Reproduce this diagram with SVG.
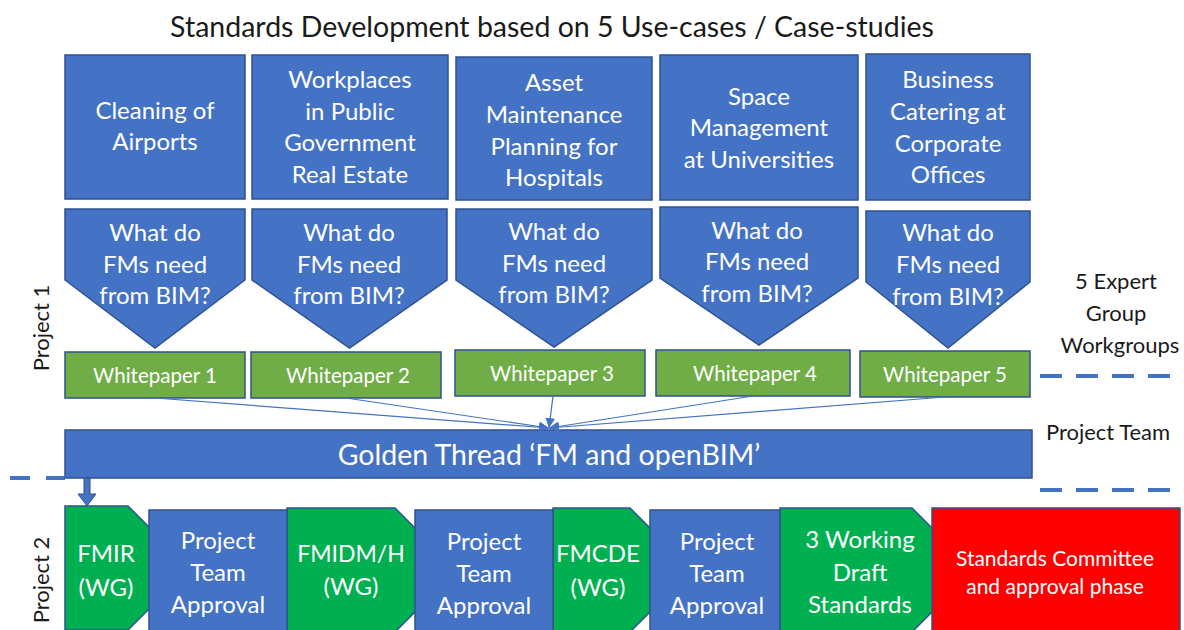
<svg xmlns="http://www.w3.org/2000/svg" width="1184" height="630" viewBox="0 0 1184 630">
<defs>
<style>
.b{fill:#4472C4;stroke:#2F528F;stroke-width:1.5}
.wp{fill:#70AD47;stroke:#2F528F;stroke-width:1.5}
.g{fill:#00B050;stroke:#2F528F;stroke-width:1.5}
.r{fill:#FF0000;stroke:#2F528F;stroke-width:1.5}
text{font-family:Lato,"Noto Sans",sans-serif;text-anchor:middle}
.w{fill:#FFFFFF;font-size:24px}
.ws{fill:#FFFFFF;font-size:20.5px}
.k{fill:#1a1a1a;font-size:22px}
.dash{stroke:#4472C4;stroke-width:4;stroke-dasharray:22 14;fill:none}
.con{stroke:#4472C4;stroke-width:1.2;fill:none}
</style>
<marker id="ah" viewBox="0 0 10 10" refX="10" refY="5" markerWidth="10" markerHeight="10" markerUnits="userSpaceOnUse" orient="auto">
<path d="M0,0 L10,5 L0,10 z" fill="#4472C4"/>
</marker>
</defs>
<rect width="1184" height="630" fill="#FFFFFF"/>
<text x="552" y="37" style="font-size:28.5px;fill:#1a1a1a">Standards Development based on 5 Use-cases / Case-studies</text>

<g id="usecase1"><rect class="b" x="65" y="55" width="180" height="144"/>
<text class="w" x="155" y="119">Cleaning of</text><text class="w" x="155" y="150">Airports</text></g>
<g id="usecase2"><rect class="b" x="252" y="55" width="196" height="144"/>
<text class="w" x="350" y="88">Workplaces</text><text class="w" x="350" y="120">in Public</text><text class="w" x="350" y="151">Government</text><text class="w" x="350" y="183">Real Estate</text></g>
<g id="usecase3"><rect class="b" x="456" y="57" width="196" height="143"/>
<text class="w" x="554" y="91">Asset</text><text class="w" x="554" y="123">Maintenance</text><text class="w" x="554" y="155">Planning for</text><text class="w" x="554" y="186">Hospitals</text></g>
<g id="usecase4"><rect class="b" x="660" y="55" width="198" height="145"/>
<text class="w" x="759" y="105">Space</text><text class="w" x="759" y="136">Management</text><text class="w" x="759" y="168">at Universities</text></g>
<g id="usecase5"><rect class="b" x="866" y="54" width="164" height="146"/>
<text class="w" x="948" y="88">Business</text><text class="w" x="948" y="120">Catering at</text><text class="w" x="948" y="152">Corporate</text><text class="w" x="948" y="183">Offices</text></g>

<g id="question1"><path class="b" d="M65,209 H245 V280 L155,348 L65,280 Z"/>
<text class="w" x="155" y="241">What do</text><text class="w" x="155" y="273">FMs need</text><text class="w" x="155" y="304">from BIM?</text></g>
<g id="question2"><path class="b" d="M252,209 H447 V280 L349.5,348 L252,280 Z"/>
<text class="w" x="349" y="241">What do</text><text class="w" x="349" y="273">FMs need</text><text class="w" x="349" y="304">from BIM?</text></g>
<g id="question3"><path class="b" d="M456,209 H652 V280 L554,347 L456,280 Z"/>
<text class="w" x="554" y="240">What do</text><text class="w" x="554" y="272">FMs need</text><text class="w" x="554" y="303">from BIM?</text></g>
<g id="question4"><path class="b" d="M660,207 H858 V278 L759,345 L660,278 Z"/>
<text class="w" x="757" y="239">What do</text><text class="w" x="757" y="270">FMs need</text><text class="w" x="757" y="302">from BIM?</text></g>
<g id="question5"><path class="b" d="M866,211 H1030 V282 L948,348 L866,282 Z"/>
<text class="w" x="948" y="241">What do</text><text class="w" x="948" y="273">FMs need</text><text class="w" x="948" y="305">from BIM?</text></g>

<g id="whitepaper1"><rect class="wp" x="65" y="352" width="180" height="46"/><text class="ws" x="155" y="383">Whitepaper 1</text></g>
<g id="whitepaper2"><rect class="wp" x="251" y="352" width="190" height="46"/><text class="ws" x="348" y="383">Whitepaper 2</text></g>
<g id="whitepaper3"><rect class="wp" x="455" y="350" width="190" height="46"/><text class="ws" x="552" y="381">Whitepaper 3</text></g>
<g id="whitepaper4"><rect class="wp" x="656" y="350" width="194" height="46"/><text class="ws" x="755" y="381">Whitepaper 4</text></g>
<g id="whitepaper5"><rect class="wp" x="860" y="351" width="170" height="46"/><text class="ws" x="945" y="382">Whitepaper 5</text></g>

<g id="goldenthread"><rect class="b" x="65" y="430" width="967" height="48"/>
<text x="549" y="465" style="font-size:28.5px;fill:#FFFFFF">Golden Thread ‘FM and openBIM’</text></g>

<g id="connectors">
<line class="con" x1="155" y1="398" x2="549" y2="428" marker-end="url(#ah)"/>
<line class="con" x1="346" y1="398" x2="549" y2="428" marker-end="url(#ah)"/>
<line class="con" x1="553" y1="396" x2="549" y2="428" marker-end="url(#ah)"/>
<line class="con" x1="753" y1="396" x2="549" y2="428" marker-end="url(#ah)"/>
<line class="con" x1="945" y1="397" x2="549" y2="428" marker-end="url(#ah)"/>
<path d="M84,478 H90 V494 H96 L87,506 L78,494 H84 Z" fill="#4472C4" stroke="#2F528F" stroke-width="1"/>
</g>

<g id="separators">
<line class="dash" x1="1040" y1="376" x2="1184" y2="376"/>
<line class="dash" x1="1040" y1="490" x2="1184" y2="490"/>
<line class="dash" x1="10" y1="478" x2="65" y2="478" style="stroke-dasharray:20 16"/>
</g>

<g id="labels">
<text class="k" x="1116" y="289">5 Expert</text>
<text class="k" x="1116" y="321">Group</text>
<text class="k" x="1120" y="353">Workgroups</text>
<text class="k" x="1108" y="440">Project Team</text>
<text class="k" transform="translate(49,328) rotate(-90)">Project 1</text>
<text class="k" transform="translate(49,580) rotate(-90)">Project 2</text>
</g>

<g id="fmir"><path class="g" d="M65,506 H128 L190,568 L128,630 H65 Z"/>
<text class="w" x="106" y="562">FMIR</text><text class="w" x="106" y="596">(WG)</text></g>
<g id="fmidm"><path class="g" d="M287,508 H395 L457,570 L395,632 H287 Z"/>
<text class="w" x="351" y="562" style="font-size:23px">FMIDM/H</text><text class="w" x="351" y="595">(WG)</text></g>
<g id="fmcde"><path class="g" d="M553,508 H630 L692,570 L630,632 H553 Z"/>
<text class="w" x="598" y="562">FMCDE</text><text class="w" x="598" y="596">(WG)</text></g>
<g id="drafts"><path class="g" d="M780,508 H912 L974,570 L912,632 H780 Z"/>
<text class="w" x="860" y="548">3 Working</text><text class="w" x="860" y="581">Draft</text><text class="w" x="860" y="613">Standards</text></g>

<g id="approval1"><rect class="b" x="149" y="510" width="138" height="122"/>
<text class="w" x="218" y="549">Project</text><text class="w" x="218" y="581">Team</text><text class="w" x="218" y="613">Approval</text></g>
<g id="approval2"><rect class="b" x="415" y="510" width="138" height="122"/>
<text class="w" x="484" y="550">Project</text><text class="w" x="484" y="582">Team</text><text class="w" x="484" y="614">Approval</text></g>
<g id="approval3"><rect class="b" x="650" y="510" width="130" height="122"/>
<text class="w" x="717" y="550">Project</text><text class="w" x="717" y="582">Team</text><text class="w" x="717" y="614">Approval</text></g>
<g id="committee"><rect class="r" x="932" y="508" width="248" height="124"/>
<text x="1055" y="566" style="font-size:21px;fill:#FFFFFF">Standards Committee</text>
<text x="1055" y="594" style="font-size:21px;fill:#FFFFFF">and approval phase</text></g>
</svg>
